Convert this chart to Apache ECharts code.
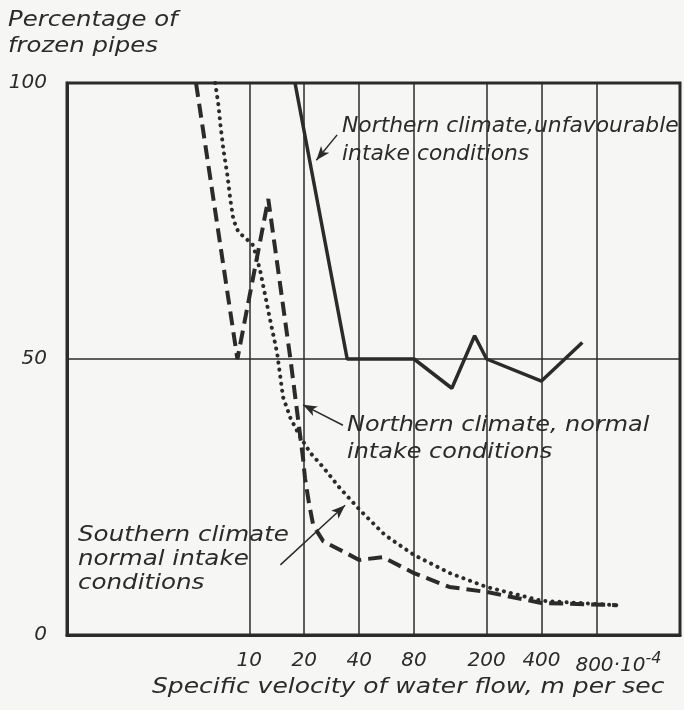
<!DOCTYPE html>
<html>
<head>
<meta charset="utf-8">
<script src="https://cdn.jsdelivr.net/npm/echarts@6/dist/echarts.min.js"></script>
<style>
  html, body { margin: 0; padding: 0; background: #f6f6f4; }
  #chart { width: 684px; height: 710px; }
</style>
</head>
<body>
<div id="chart"></div>
<script>
// velocity in 1e-4 m/s (log axis), frozen pipes in %
var xTicks = [10, 20, 40, 80, 200, 400, 800];
var yTicks = [0, 50, 100];

// Southern climate, normal intake (dashed)
var southX = [5.1, 8.6, 12.7, 16.8, 19.7, 20.2, 21.3, 22.4, 25.4, 31.5, 40, 54, 80, 125, 200, 400, 1030];
var southY = [100, 50, 79, 50, 32, 28.4, 23.6, 19.9, 17.0, 15.4, 13.6, 14.1, 11.2, 8.7, 7.8, 5.8, 5.4];

// Northern climate, normal intake (dotted)
var northX = [6.5, 6.77, 6.94, 7.21, 7.58, 7.87, 8.18, 8.71, 9.51, 10.4, 10.9, 11.5, 12.2, 13.0, 14.2,
    15.3, 16.8, 19.0, 21.6, 25.4, 31.4, 40.5, 55.4, 80, 126, 200, 400, 1030];
var northY = [100, 96.0, 92.4, 87.9, 83.3, 78.8, 75.2, 73.0, 71.9, 70.8, 68.8, 65.8, 61.6, 57.1, 51.1,
    43.1, 39.3, 35.9, 33.0, 30.4, 26.6, 22.6, 18.1, 14.5, 11.2, 8.7, 6.2, 5.4];

// Northern climate, unfavourable intake (solid)
var unfavX = [17.8, 34.4, 80, 129, 172, 200, 400, 670];
var unfavY = [100, 50, 50, 44.7, 54.2, 50, 46, 53];

// annotation arrows [fromX, fromY, toX, toY]
var arrows = [
    [30.3, 90.6, 23.3, 86],
    [32.6, 38, 19.7, 41.7],
    [14.8, 12.7, 33.5, 23.5]
];

function zip(xs, ys) {
    return xs.map(function (x, i) { return [x, ys[i]]; });
}

var ink = '#2b2b2b';
var font = 'DejaVu Sans';

function note(x, y, text, sx, lh) {
    return {
        type: 'text',
        x: x,
        y: y,
        scaleX: sx,
        style: {
            text: text,
            fill: ink,
            font: 'oblique 21px "' + font + '"',
            lineHeight: lh || 27
        }
    };
}

var myChart = echarts.init(document.getElementById('chart'));

option = {
    backgroundColor: '#f6f6f4',
    animation: false,
    grid: {
        left: 67,
        right: 4,
        top: 83,
        bottom: 75,
        show: true,
        borderColor: ink,
        borderWidth: 3
    },
    xAxis: {
        type: 'log',
        logBase: 10,
        min: 1,
        max: 2300,
        axisLine: { show: true, lineStyle: { color: ink, width: 3 } },
        axisTick: { show: false, customValues: xTicks },
        splitLine: { show: true, lineStyle: { color: ink, width: 1.5 } },
        minorTick: { show: false },
        minorSplitLine: { show: false },
        axisLabel: {
            customValues: xTicks,
            margin: 16,
            color: ink,
            fontFamily: font,
            fontStyle: 'oblique',
            fontSize: 20,
            formatter: function (v) {
                return v === 800 ? '{a|800·10}{sup|-4}' : String(v);
            },
            rich: {
                a: { fontFamily: font, fontStyle: 'oblique', fontSize: 20, color: ink, padding: [0, 0, 0, 44] },
                sup: { fontFamily: font, fontStyle: 'oblique', fontSize: 16, color: ink, padding: [0, 0, 14, 0] }
            }
        }
    },
    yAxis: {
        type: 'value',
        min: 0,
        max: 100,
        interval: 50,
        axisLine: { show: true, lineStyle: { color: ink, width: 3 } },
        axisTick: { show: false },
        splitLine: { show: true, lineStyle: { color: ink, width: 1.5 } },
        axisLabel: {
            margin: 20,
            color: ink,
            fontFamily: font,
            fontStyle: 'oblique',
            fontSize: 20
        }
    },
    graphic: [
        note(8, 8, 'Percentage of\nfrozen pipes', 1.16, 26),
        note(342, 113, 'Northern climate,unfavourable\nintake conditions', 1.04, 28),
        note(347, 412, 'Northern climate, normal\nintake conditions', 1.14, 27),
        note(78, 524, 'Southern climate\nnormal intake\nconditions', 1.17, 24),
        note(152, 676, 'Specific velocity of water flow, m per sec', 1.19, 24)
    ],
    series: [
        {
            name: 'unfavourable',
            type: 'line',
            data: zip(unfavX, unfavY),
            symbol: 'none',
            lineStyle: { color: ink, width: 3.5 },
            z: 5
        },
        {
            name: 'north',
            type: 'line',
            data: zip(northX, northY),
            symbol: 'none',
            lineStyle: { color: ink, width: 4, type: [0.1, 7], cap: 'round' },
            z: 4
        },
        {
            name: 'south',
            type: 'line',
            data: zip(southX, southY),
            symbol: 'none',
            lineStyle: { color: ink, width: 4, type: [14, 7] },
            z: 4
        },
        {
            name: 'arrows',
            type: 'line',
            data: [],
            markLine: {
                silent: true,
                symbol: ['none', 'arrow'],
                symbolSize: [8, 14],
                label: { show: false },
                lineStyle: { color: ink, width: 1.5, type: 'solid' },
                data: arrows.map(function (a) {
                    return [{ coord: [a[0], a[1]] }, { coord: [a[2], a[3]] }];
                })
            }
        }
    ]
};

myChart.setOption(option);
</script>
</body>
</html>
